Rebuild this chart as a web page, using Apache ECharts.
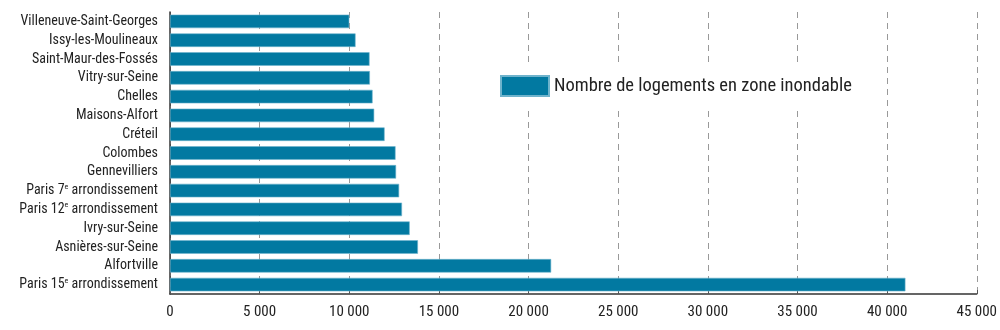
<!DOCTYPE html>
<html>
<head>
<meta charset="utf-8">
<script src="https://cdn.jsdelivr.net/npm/echarts@6/dist/echarts.min.js"></script>
<style>
  html, body { margin: 0; padding: 0; background: #fff; }
  #chart { width: 1000px; height: 330px; }
</style>
</head>
<body>
<div id="chart"></div>
<script>
// Communes, listed top to bottom
const communes = [
  'Villeneuve-Saint-Georges',
  'Issy-les-Moulineaux',
  'Saint-Maur-des-Fossés',
  'Vitry-sur-Seine',
  'Chelles',
  'Maisons-Alfort',
  'Créteil',
  'Colombes',
  'Gennevilliers',
  'Paris 7{sup|e} arrondissement',
  'Paris 12{sup|e} arrondissement',
  'Ivry-sur-Seine',
  'Asnières-sur-Seine',
  'Alfortville',
  'Paris 15{sup|e} arrondissement'
];

// Housing units located in flood-prone areas
const logements = [10000, 10350, 11130, 11150, 11300, 11390, 11970, 12580, 12610, 12780, 12940, 13370, 13830, 21260, 41020];

const seriesName = 'Nombre de logements en zone inondable';
const xTicks = [0, 5000, 10000, 15000, 20000, 25000, 30000, 35000, 40000, 45000];

const FONT = '"Liberation Sans Narrow", "Roboto Condensed", Roboto, "Liberation Sans", sans-serif';
const BAR = '#0279a1';

const fmt = v => String(v).replace(/\B(?=(\d{3})+(?!\d))/g, ' ');

const chart = echarts.init(document.getElementById('chart'), null, { renderer: 'canvas' });
chart.setOption({
  animation: false,
  backgroundColor: '#fff',
  textStyle: { fontFamily: FONT },
  grid: { left: 170, right: 22, top: 12, bottom: 36, containLabel: false },
  legend: {
    data: [{ name: seriesName, icon: 'rect' }],
    left: 490,
    top: 63,
    padding: [12, 14, 12, 10],
    backgroundColor: '#fff',
    itemWidth: 48,
    itemHeight: 20,
    itemGap: 8,
    textStyle: { fontFamily: FONT, fontSize: 18.5, color: '#222' },
    z: 10
  },
  xAxis: {
    type: 'value',
    min: xTicks[0],
    max: xTicks[xTicks.length - 1],
    interval: xTicks[1] - xTicks[0],
    axisLine: { show: true, lineStyle: { color: '#333', width: 1.5 } },
    axisTick: { show: true, inside: true, length: 4, lineStyle: { color: '#555' } },
    splitLine: { show: true, lineStyle: { color: '#999', type: [6, 5], width: 1 } },
    axisLabel: {
      margin: 11,
      fontFamily: FONT,
      fontSize: 15,
      color: '#222',
      formatter: v => fmt(v)
    }
  },
  yAxis: {
    type: 'category',
    data: communes,
    inverse: true,
    axisLine: { show: true, lineStyle: { color: '#333', width: 1.5 } },
    axisTick: { show: false },
    axisLabel: {
      margin: 12,
      fontFamily: FONT,
      fontSize: 14,
      color: '#222',
      lineHeight: 16,
      rich: {
        sup: { fontFamily: FONT, fontSize: 8, color: '#222', verticalAlign: 'top', lineHeight: 16, padding: [0, 0, 5, 0] }
      }
    }
  },
  series: [{
    name: seriesName,
    type: 'bar',
    data: logements,
    barWidth: '72%',
    itemStyle: { color: BAR, borderColor: '#6fb3cc', borderWidth: 0.6 },
    z: 2
  }]
});
</script>
</body>
</html>
